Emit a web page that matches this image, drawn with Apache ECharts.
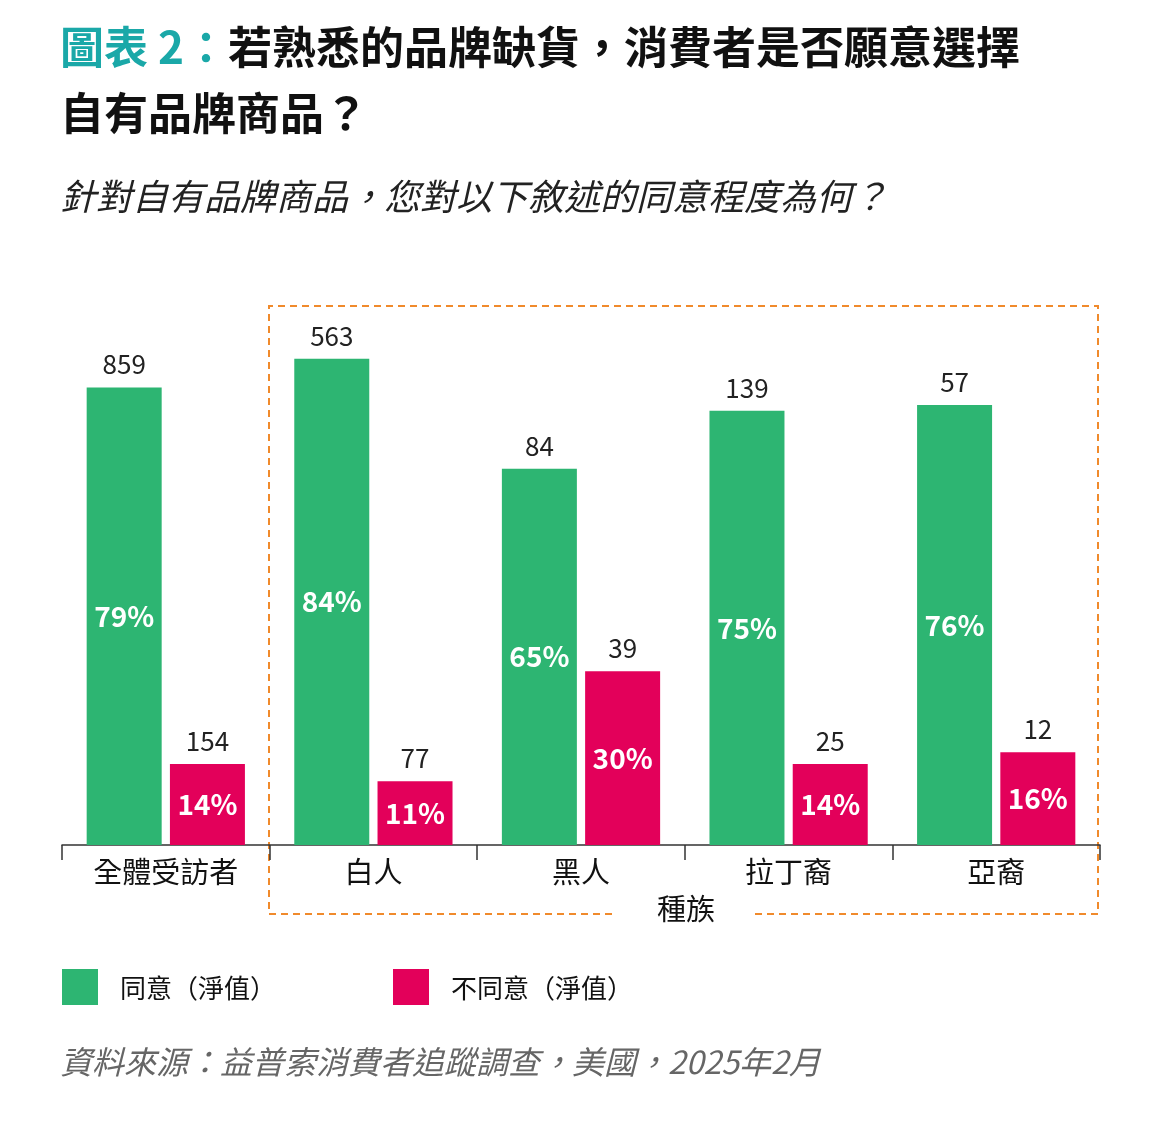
<!DOCTYPE html>
<html><head><meta charset="utf-8">
<script src="https://cdn.jsdelivr.net/npm/echarts@6/dist/echarts.min.js"></script>
<style>html,body{margin:0;background:#fff}#c{width:1158px;height:1123px}</style>
</head><body><div id="c"></div>
<script>
// 資料
var categories = ['全體受訪者', '白人', '黑人', '拉丁裔', '亞裔'];
var agreePct = [79, 84, 65, 75, 76];
var disagreePct = [14, 11, 30, 14, 16];
var agreeN = [859, 563, 84, 139, 57];
var disagreeN = [154, 77, 39, 25, 12];

var GREEN = '#2db572', RED = '#e3005a', ORANGE = '#f08a2c';
var FONT = '"Noto Sans CJK TC", "Noto Sans", sans-serif';

var chart = echarts.init(document.getElementById('c'));

function topSeries(stack, counts) {
	return {
		type: 'bar', stack: stack, barWidth: 75, silent: true,
		data: counts.map(function () { return 0; }),
		label: {
			show: true, position: 'top', distance: 10,
			fontSize: 26, color: '#222', fontFamily: FONT,
			formatter: function (p) { return counts[p.dataIndex]; }
		}
	};
}
function pctLabel() {
	return { show: true, position: 'inside', fontSize: 28, fontWeight: 'bold',
		color: '#fff', fontFamily: FONT, formatter: '{c}%' };
}

var option = {
	animation: false,
	grid: { left: 62, right: 58, top: 266, bottom: 278 },
	xAxis: {
		type: 'category', data: categories,
		axisLine: { lineStyle: { color: '#333', width: 1.5 } },
		axisTick: { show: true, length: 15, lineStyle: { color: '#333', width: 1.5 } },
		axisLabel: { fontSize: 29, color: '#111', margin: 12, fontFamily: FONT }
	},
	yAxis: { type: 'value', min: 0, max: 100, show: false },
	series: [
		{ type: 'bar', stack: 'g', barWidth: 75, barGap: '11%', data: agreePct,
			itemStyle: { color: GREEN }, label: pctLabel() },
		{ type: 'bar', stack: 'r', barWidth: 75, data: disagreePct,
			itemStyle: { color: RED }, label: pctLabel() },
		topSeries('g', agreeN),
		topSeries('r', disagreeN)
	],
	graphic: [
		{ type: 'text', left: 60, top: 14, style: {
			text: '{t|圖表 2：}{b|若熟悉的品牌缺貨，消費者是否願意選擇}\n{b|自有品牌商品？}',
			font: '600 44px ' + FONT, lineHeight: 66,
			rich: { t: { fill: '#1aa8a8', font: '600 44px ' + FONT },
				b: { fill: '#111', font: '600 44px ' + FONT } } } },
		{ type: 'text', left: 60, top: 178, style: {
			text: '針對自有品牌商品，您對以下敘述的同意程度為何？',
			font: 'italic 36px ' + FONT, fill: '#222' } },
		{ type: 'polyline', shape: { points: [[612, 914], [269, 914], [269, 306], [1098, 306], [1098, 914], [755, 914]] },
			style: { stroke: ORANGE, lineWidth: 2, lineDash: [7, 5], fill: null } },
		{ type: 'text', x: 686, y: 909, style: { text: '種族', font: '29px ' + FONT,
			fill: '#111', align: 'center', verticalAlign: 'middle' } },
		{ type: 'rect', shape: { x: 62, y: 969, width: 36, height: 36 }, style: { fill: GREEN } },
		{ type: 'text', x: 120, y: 988, style: { text: '同意（淨值）', font: '26px ' + FONT,
			fill: '#111', verticalAlign: 'middle' } },
		{ type: 'rect', shape: { x: 393, y: 969, width: 36, height: 36 }, style: { fill: RED } },
		{ type: 'text', x: 451, y: 988, style: { text: '不同意（淨值）', font: '26px ' + FONT,
			fill: '#111', verticalAlign: 'middle' } },
		{ type: 'text', x: 60, y: 1062, style: { text: '資料來源：益普索消費者追蹤調查，美國，2025年2月',
			font: 'italic 32px ' + FONT, fill: '#666', verticalAlign: 'middle' } }
	]
};
chart.setOption(option);
</script>
</body></html>
